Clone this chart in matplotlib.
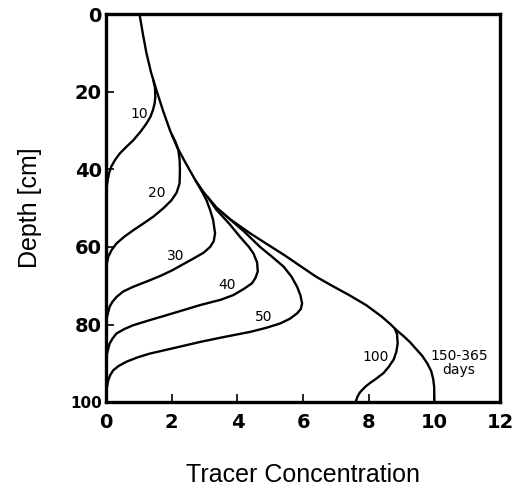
import matplotlib
matplotlib.use("Agg")
import matplotlib.pyplot as plt

# Envelope curve (150-365 days): depth [cm] vs tracer concentration
env_depth = [0, 5, 10, 15, 20, 25, 30, 34.2, 38, 42.8, 46, 50, 53, 56.5, 59, 62, 65,
             67.7, 70, 72.4, 75, 78, 80, 81.5, 83, 84.5, 86.6, 88, 90, 92, 94, 96, 100]
env_conc = [1.02, 1.12, 1.23, 1.37, 1.55, 1.74, 1.95, 2.16, 2.4, 2.72, 2.98, 3.38, 3.8,
            4.39, 4.85, 5.41, 5.93, 6.4, 6.88, 7.4, 7.92, 8.4, 8.67, 8.85, 9.06, 9.25,
            9.47, 9.62, 9.78, 9.9, 9.96, 9.99, 10.0]

# Day curves (portion below where each leaves the envelope)
d10_depth = [17, 19, 21.3, 23, 24.7, 26.5, 28.2, 30.3, 32.5, 34.2, 35.9, 37.5, 39.3,
             40.8, 42.3, 44, 46]
d10_conc = [1.44, 1.49, 1.5, 1.48, 1.43, 1.35, 1.23, 1.05, 0.83, 0.62, 0.42, 0.28,
            0.16, 0.1, 0.06, 0.03, 0.0]

d20_depth = [31, 33, 35, 37.5, 40.2, 43.6, 46, 48, 50, 52.2, 54, 55.7, 57.4, 59.1,
             60.8, 62.5, 64.5, 66]
d20_conc = [2.0, 2.12, 2.2, 2.24, 2.25, 2.24, 2.15, 1.99, 1.75, 1.44, 1.13, 0.83,
            0.55, 0.32, 0.17, 0.07, 0.02, 0.0]

d30_depth = [42.8, 46, 48, 50.5, 53, 56.5, 58.5, 60, 61.5, 63, 64.5, 66, 67.3, 68.6,
             70.3, 71.5, 72.9, 74.2, 75.4, 78, 80]
d30_conc = [2.72, 2.94, 3.06, 3.17, 3.26, 3.32, 3.28, 3.17, 2.97, 2.66, 2.34, 2.02,
            1.7, 1.33, 0.82, 0.52, 0.32, 0.19, 0.11, 0.03, 0.0]

d40_depth = [47, 50.5, 54, 57.4, 60, 61.7, 64, 66.3, 68, 69.4, 70.8, 72.4, 73.6, 75,
             76.3, 77.6, 78.9, 80.2, 81.2, 82.3, 83.6, 84.9, 87.5, 89]
d40_conc = [3.08, 3.37, 3.75, 4.08, 4.35, 4.49, 4.6, 4.62, 4.55, 4.44, 4.2, 3.88, 3.5,
            2.86, 2.35, 1.84, 1.32, 0.82, 0.55, 0.32, 0.2, 0.11, 0.03, 0.0]

d50_depth = [50, 52.2, 56, 60, 62.5, 65.1, 67.7, 70.3, 72.5, 74.6, 76, 77.1, 78.5,
             79.7, 80.8, 81.9, 83.2, 84.5, 86, 87.5, 88.5, 89.6, 90.7, 91.8, 93, 94.3,
             96.5, 98]
d50_conc = [3.38, 3.68, 4.2, 4.69, 5.05, 5.41, 5.65, 5.82, 5.92, 5.97, 5.93, 5.82, 5.6,
            5.31, 4.9, 4.39, 3.6, 2.86, 2.1, 1.33, 0.95, 0.62, 0.38, 0.22, 0.13, 0.07,
            0.02, 0.0]

d100_depth = [81, 82.5, 84.9, 87, 89, 91, 92.5, 94, 95, 96, 97.5, 98.7, 100]
d100_conc = [8.79, 8.86, 8.88, 8.84, 8.76, 8.6, 8.45, 8.22, 8.05, 7.9, 7.73, 7.65, 7.6]

# Curve labels: text, concentration, depth
labels = ["10", "20", "30", "40", "50", "100", "150-365\ndays"]
label_x = [1.0, 1.53, 2.13, 3.67, 4.8, 8.2, 10.75]
label_y = [25.8, 46.2, 62.4, 69.8, 78, 88.5, 90]

xticks = [0, 2, 4, 6, 8, 10, 12]
yticks = [0, 20, 40, 60, 80, 100]

fig = plt.figure(figsize=(5.21, 4.88), dpi=100)
ax = fig.add_axes([0.2035, 0.176, 0.7565, 0.795])

lw = 1.7
ax.plot(env_conc, env_depth, color="black", lw=lw, solid_joinstyle="round",
        solid_capstyle="butt")
for xs, ys in [(d10_conc, d10_depth), (d20_conc, d20_depth), (d30_conc, d30_depth),
               (d40_conc, d40_depth), (d50_conc, d50_depth), (d100_conc, d100_depth)]:
    ax.plot(xs, ys, color="black", lw=lw, solid_joinstyle="round", solid_capstyle="butt")

for t, x, y in zip(labels, label_x, label_y):
    ax.text(x, y, t, ha="center", va="center", fontsize=10, family="DejaVu Sans",
            linespacing=1.0)

ax.set_xlim(0, 12)
ax.set_ylim(100, 0)
ax.set_xticks(xticks)
ax.set_yticks(yticks)
ax.tick_params(direction="in", length=6, width=1.2, labelsize=14)
ax.tick_params(axis="x", pad=8)
ax.tick_params(axis="y", pad=3)
for lab in ax.get_xticklabels() + ax.get_yticklabels():
    lab.set_fontweight("bold")
    lab.set_family("DejaVu Sans")
ax.get_yticklabels()[-1].set_fontsize(11)
for s in ax.spines.values():
    s.set_linewidth(2.4)

ax.set_xlabel("Tracer Concentration", fontsize=18, family="Liberation Sans", labelpad=22)
ax.set_ylabel("Depth [cm]", fontsize=18, family="Liberation Sans", labelpad=20)

fig.savefig("out.png", dpi=100)
